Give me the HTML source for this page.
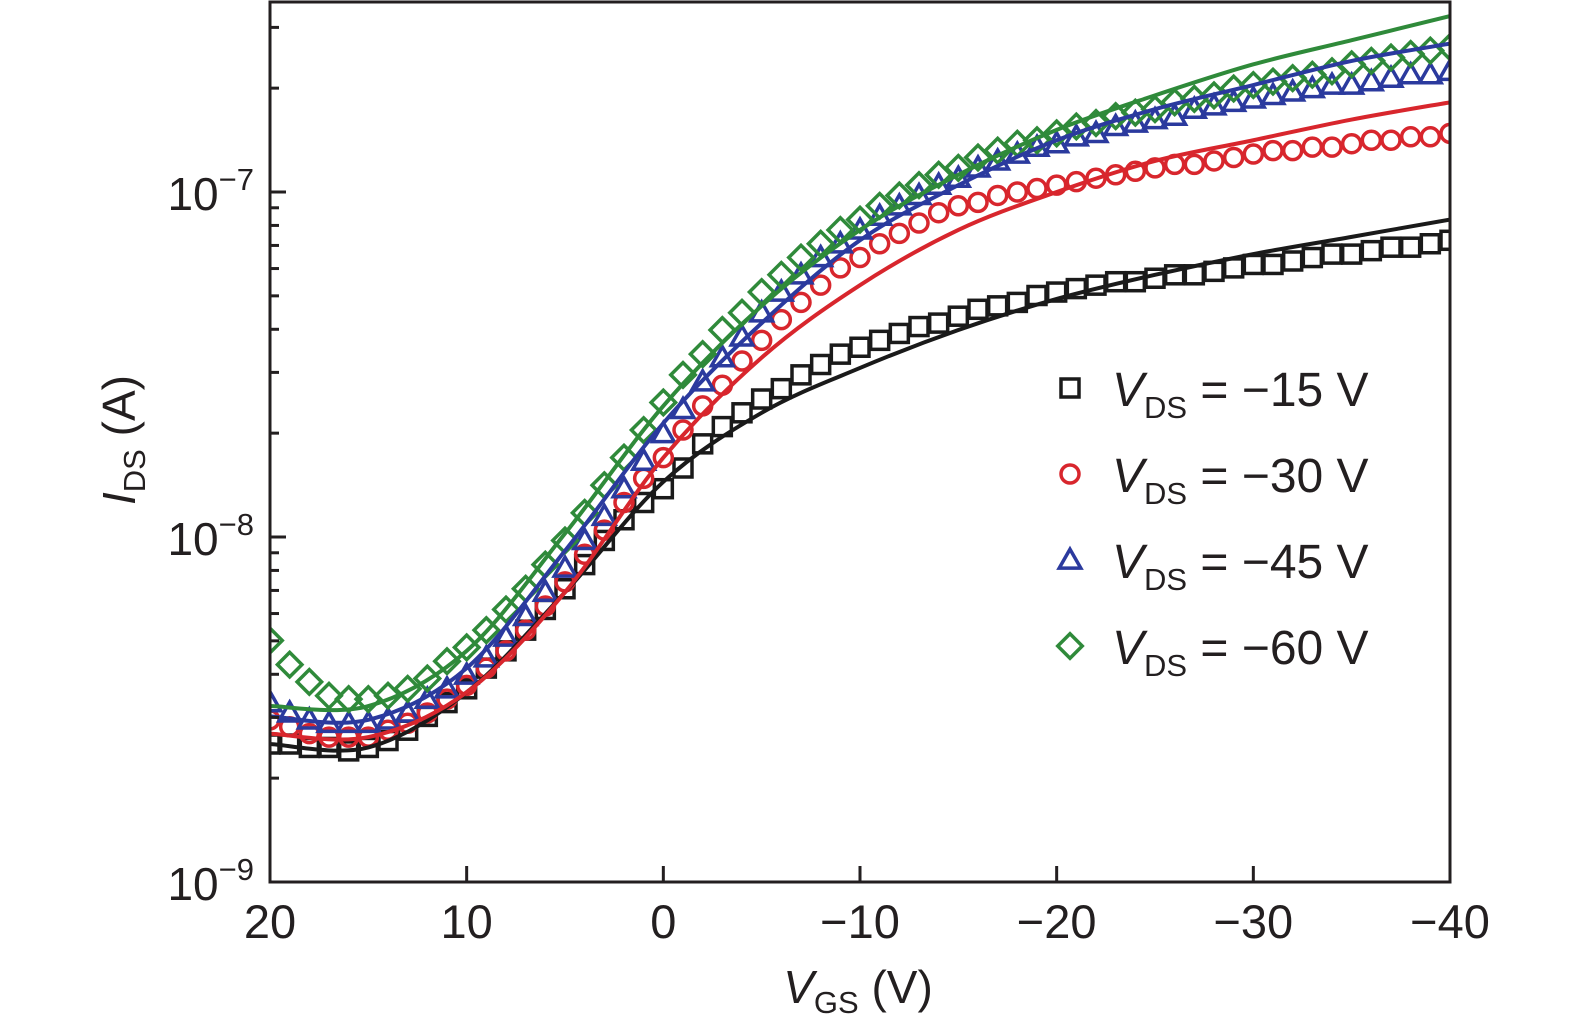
<!DOCTYPE html>
<html><head><meta charset="utf-8"><style>
html,body{margin:0;padding:0;background:#fff}
svg{display:block}
text{font-family:"Liberation Sans",sans-serif;fill:#231f20}
</style></head><body>
<svg id="chart" width="1575" height="1033" viewBox="0 0 1575 1033" xmlns="http://www.w3.org/2000/svg">
<g id="marks"></g>
<g id="axes"></g>
<g id="legend"></g>
<text transform="translate(135,440) rotate(-90)" text-anchor="middle" font-size="46"><tspan font-style="italic">I</tspan><tspan font-size="31" dy="10">DS</tspan><tspan dy="-10"> (A)</tspan></text>
<text x="858" y="1003" text-anchor="middle" font-size="46"><tspan font-style="italic">V</tspan><tspan font-size="31" dy="10">GS</tspan><tspan dy="-10"> (V)</tspan></text>
</svg>
<script>
const vgsMarkers = [20,19,18,17,16,15,14,13,12,11,10,9,8,7,6,5,4,3,2,1,0,-1,-2,-3,-4,-5,-6,-7,-8,-9,-10,-11,-12,-13,-14,-15,-16,-17,-18,-19,-20,-21,-22,-23,-24,-25,-26,-27,-28,-29,-30,-31,-32,-33,-34,-35,-36,-37,-38,-39,-40];
const vgsFit = [20,15,10,5,0,-5,-10,-15,-20,-25,-30,-35,-40];
// log10(I_DS / A)
const logI15 = [-8.60,-8.60,-8.61,-8.61,-8.62,-8.61,-8.59,-8.56,-8.52,-8.48,-8.44,-8.38,-8.33,-8.27,-8.21,-8.15,-8.08,-8.01,-7.95,-7.90,-7.86,-7.80,-7.73,-7.68,-7.64,-7.60,-7.57,-7.53,-7.50,-7.47,-7.45,-7.43,-7.41,-7.39,-7.38,-7.36,-7.34,-7.33,-7.32,-7.30,-7.29,-7.28,-7.27,-7.26,-7.26,-7.25,-7.24,-7.24,-7.23,-7.22,-7.21,-7.21,-7.20,-7.19,-7.18,-7.18,-7.17,-7.16,-7.16,-7.15,-7.14];
const logI30 = [-8.53,-8.55,-8.57,-8.58,-8.58,-8.58,-8.56,-8.54,-8.51,-8.47,-8.43,-8.38,-8.33,-8.27,-8.20,-8.13,-8.05,-7.98,-7.90,-7.83,-7.77,-7.69,-7.62,-7.56,-7.49,-7.43,-7.37,-7.32,-7.27,-7.22,-7.19,-7.15,-7.12,-7.09,-7.06,-7.04,-7.03,-7.01,-7.00,-6.99,-6.98,-6.97,-6.96,-6.95,-6.94,-6.93,-6.92,-6.92,-6.91,-6.90,-6.89,-6.88,-6.88,-6.87,-6.87,-6.86,-6.85,-6.85,-6.84,-6.84,-6.83];
const logI45 = [-8.48,-8.51,-8.53,-8.54,-8.54,-8.54,-8.53,-8.51,-8.47,-8.44,-8.40,-8.35,-8.29,-8.23,-8.16,-8.09,-8.01,-7.94,-7.86,-7.78,-7.70,-7.63,-7.55,-7.48,-7.42,-7.35,-7.29,-7.24,-7.19,-7.15,-7.11,-7.07,-7.04,-7.01,-6.98,-6.96,-6.93,-6.91,-6.89,-6.87,-6.86,-6.84,-6.83,-6.81,-6.80,-6.79,-6.78,-6.76,-6.75,-6.74,-6.73,-6.72,-6.71,-6.70,-6.69,-6.69,-6.68,-6.67,-6.66,-6.66,-6.65];
const logI60 = [-8.30,-8.37,-8.42,-8.46,-8.47,-8.47,-8.46,-8.44,-8.41,-8.36,-8.32,-8.27,-8.21,-8.15,-8.08,-8.01,-7.93,-7.85,-7.77,-7.69,-7.61,-7.53,-7.47,-7.40,-7.35,-7.29,-7.24,-7.19,-7.15,-7.11,-7.08,-7.04,-7.01,-6.98,-6.95,-6.93,-6.90,-6.88,-6.86,-6.85,-6.83,-6.81,-6.80,-6.78,-6.77,-6.76,-6.74,-6.73,-6.72,-6.70,-6.69,-6.68,-6.67,-6.66,-6.65,-6.63,-6.62,-6.61,-6.60,-6.59,-6.58];
const fit15 = [-8.60,-8.61,-8.45,-8.16,-7.84,-7.64,-7.51,-7.40,-7.31,-7.24,-7.18,-7.13,-7.08];
const fit30 = [-8.57,-8.58,-8.45,-8.16,-7.77,-7.48,-7.27,-7.11,-7.00,-6.91,-6.85,-6.79,-6.74];
const fit45 = [-8.52,-8.53,-8.38,-8.04,-7.67,-7.38,-7.14,-6.98,-6.85,-6.76,-6.69,-6.62,-6.57];
const fit60 = [-8.49,-8.49,-8.33,-7.99,-7.62,-7.33,-7.11,-6.95,-6.82,-6.72,-6.63,-6.56,-6.49];
const xTicks = [20,10,0,-10,-20,-30,-40];
const xTickLabels = ["20","10","0","\u221210","\u221220","\u221230","\u221240"];
const yTicks = [-9,-8,-7];
const yTickLabels = ["\u22129","\u22128","\u22127"];
const legendLabels = ["\u221215 V","\u221230 V","\u221245 V","\u221260 V"];

const NS="http://www.w3.org/2000/svg";
const L=270,R=1450,T=2,B=882;
const xMin=20,xMax=-40,yMin=-9,yMax=-9+(B-T)/345;
function xs(v){return L+(v-xMin)/(xMax-xMin)*(R-L);}
function ys(v){return B-(v-yMin)/(yMax-yMin)*(B-T);}
function mk(tag,attrs,parent){const e=document.createElementNS(NS,tag);for(const k in attrs)e.setAttribute(k,attrs[k]);parent.appendChild(e);return e;}
const marks=document.getElementById('marks'),axes=document.getElementById('axes'),legend=document.getElementById('legend');

const series=[
 {data:logI15,fit:fit15,color:"#1a1a1a",shape:"square",name:"vds-15"},
 {data:logI30,fit:fit30,color:"#d8262d",shape:"circle",name:"vds-30"},
 {data:logI45,fit:fit45,color:"#2b3a9e",shape:"triangle",name:"vds-45"},
 {data:logI60,fit:fit60,color:"#2f8a3a",shape:"diamond",name:"vds-60"}];

function marker(shape,cx,cy,color,parent,s){
  let e;
  if(shape==="square") e=mk('rect',{x:cx-s/2,y:cy-s/2,width:s,height:s},parent);
  else if(shape==="circle") e=mk('circle',{cx:cx,cy:cy,r:s/2},parent);
  else if(shape==="triangle") e=mk('polygon',{points:`${cx},${cy-s*0.6} ${cx+s*0.6},${cy+s*0.45} ${cx-s*0.6},${cy+s*0.45}`},parent);
  else e=mk('polygon',{points:`${cx},${cy-s*0.68} ${cx+s*0.68},${cy} ${cx},${cy+s*0.68} ${cx-s*0.68},${cy}`},parent);
  e.setAttribute('fill','none');e.setAttribute('stroke',color);e.setAttribute('stroke-width','3.5');
  return e;
}
function smoothPath(pts){
  let d=`M${pts[0][0]},${pts[0][1]}`;
  for(let i=0;i<pts.length-1;i++){
    const p0=pts[Math.max(0,i-1)],p1=pts[i],p2=pts[i+1],p3=pts[Math.min(pts.length-1,i+2)];
    const c1=[p1[0]+(p2[0]-p0[0])/6,p1[1]+(p2[1]-p0[1])/6],c2=[p2[0]-(p3[0]-p1[0])/6,p2[1]-(p3[1]-p1[1])/6];
    d+=` C${c1[0]},${c1[1]} ${c2[0]},${c2[1]} ${p2[0]},${p2[1]}`;
  }
  return d;
}
const clip=mk('clipPath',{id:'pc'},mk('defs',{},marks));
mk('rect',{x:L,y:T,width:R-L,height:B-T},clip);
marks.setAttribute('clip-path','url(#pc)');
series.forEach(s=>{
  const g=mk('g',{},marks);
  
  
  s.data.forEach((v,i)=>{
    const m=marker(s.shape,xs(vgsMarkers[i]),ys(v),s.color,g,18);
    
    
  });
});
series.forEach(s=>{
  const p=mk('path',{d:smoothPath(s.fit.map((v,i)=>[xs(vgsFit[i]),ys(v)])),fill:'none',stroke:s.color,'stroke-width':4},marks);
  
  
});

const fr=mk('rect',{x:L,y:T,width:R-L,height:B-T,fill:'none',stroke:'#231f20','stroke-width':3},axes);


xTicks.forEach((v,i)=>{
  const x=xs(v);
  const t=mk('line',{x1:x,x2:x,y1:B,y2:B-16,stroke:'#231f20','stroke-width':3},axes);
  
  
  const lb=mk('text',{x:x,y:B+56,'text-anchor':'middle','font-size':47},axes);
  lb.textContent=xTickLabels[i];
  
  
});
for(let d=-9;d<=-7;d++){
  for(let k=1;k<10;k++){
    const v=d+Math.log10(k);
    if(v>yMax)continue;
    const y=ys(v);
    const len=k===1?16:9;
    const t=mk('line',{x1:L,x2:L+len,y1:y,y2:y,stroke:'#231f20','stroke-width':3},axes);
    
    
  }
}
yTicks.forEach((v,i)=>{
  const y=ys(v);
  const lb=mk('text',{x:L-16,y:y+18,'text-anchor':'end','font-size':46},axes);
  
  
  const a=mk('tspan',{},lb);a.textContent='10';
  const b=mk('tspan',{'font-size':31,dy:-20},lb);b.textContent=yTickLabels[i];
});
series.forEach((s,i)=>{
  const y=388+i*86;
  const g=mk('g',{},legend);
  
  
  marker(s.shape,1070,y,s.color,g,18);
  const t=mk('text',{x:1112,y:y+18,'font-size':48},g);
  const a=mk('tspan',{'font-style':'italic'},t);a.textContent='V';
  const b=mk('tspan',{'font-size':31,dy:12},t);b.textContent='DS';
  const c=mk('tspan',{dy:-12},t);c.textContent=' = '+legendLabels[i];
});
</script>
</body></html>
